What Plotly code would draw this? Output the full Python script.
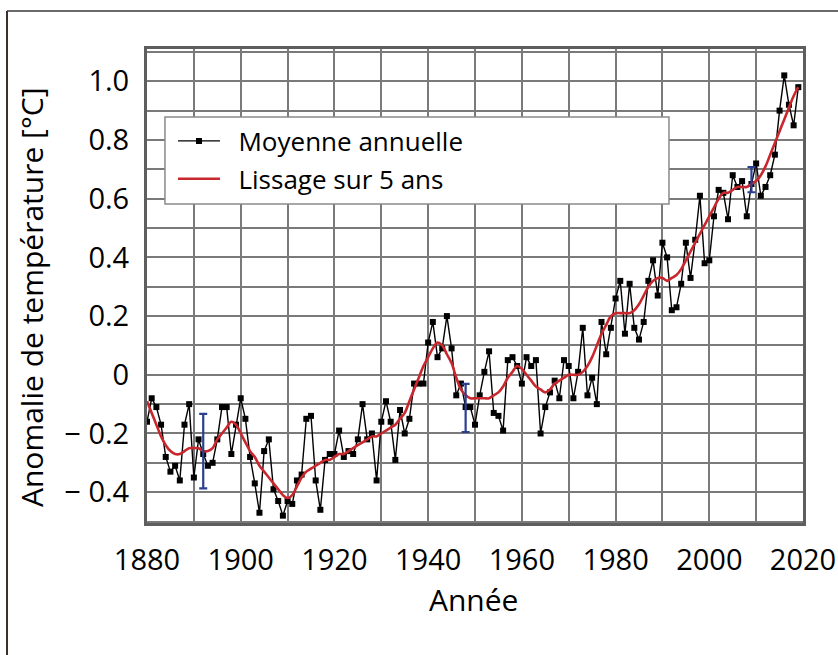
import plotly.graph_objects as go

# ---- data ----
years = list(range(1880, 2020))
annual = [
    -0.16, -0.08, -0.11, -0.17, -0.28, -0.33, -0.31, -0.36, -0.17, -0.10,
    -0.35, -0.22, -0.27, -0.31, -0.30, -0.22, -0.11, -0.11, -0.27, -0.17,
    -0.08, -0.15, -0.28, -0.37, -0.47, -0.26, -0.22, -0.39, -0.43, -0.48,
    -0.43, -0.44, -0.36, -0.34, -0.15, -0.14, -0.36, -0.46, -0.29, -0.27,
    -0.27, -0.19, -0.28, -0.26, -0.27, -0.22, -0.10, -0.22, -0.20, -0.36,
    -0.16, -0.09, -0.16, -0.29, -0.12, -0.20, -0.15, -0.03, -0.03, -0.03,
    0.11, 0.18, 0.06, 0.09, 0.20, 0.09, -0.07, -0.03, -0.11, -0.11,
    -0.17, -0.07, 0.01, 0.08, -0.13, -0.14, -0.19, 0.05, 0.06, 0.03,
    -0.03, 0.06, 0.03, 0.05, -0.20, -0.11, -0.06, -0.02, -0.08, 0.05,
    0.03, -0.08, 0.01, 0.16, -0.07, -0.01, -0.10, 0.18, 0.07, 0.16,
    0.26, 0.32, 0.14, 0.31, 0.16, 0.12, 0.18, 0.32, 0.39, 0.27,
    0.45, 0.40, 0.22, 0.23, 0.31, 0.45, 0.33, 0.46, 0.61, 0.38,
    0.39, 0.54, 0.63, 0.62, 0.53, 0.68, 0.64, 0.66, 0.54, 0.65,
    0.72, 0.61, 0.64, 0.68, 0.75, 0.90, 1.02, 0.92, 0.85, 0.98,
]
smooth = [
    -0.09, -0.13, -0.17, -0.21, -0.24, -0.26, -0.27, -0.27, -0.26, -0.25,
    -0.25, -0.25, -0.26, -0.26, -0.25, -0.22, -0.20, -0.18, -0.16, -0.17,
    -0.20, -0.23, -0.26, -0.28, -0.31, -0.33, -0.35, -0.37, -0.39, -0.41,
    -0.42, -0.41, -0.38, -0.35, -0.33, -0.32, -0.31, -0.30, -0.29, -0.29,
    -0.28, -0.27, -0.27, -0.26, -0.25, -0.24, -0.23, -0.22, -0.21, -0.21,
    -0.20, -0.19, -0.18, -0.17, -0.15, -0.13, -0.09, -0.05, -0.01, 0.03,
    0.06, 0.09, 0.11, 0.10, 0.07, 0.04, -0.01, -0.05, -0.07, -0.08,
    -0.08, -0.08, -0.08, -0.08, -0.07, -0.06, -0.04, -0.01, 0.01, 0.03,
    0.02, 0.00, -0.02, -0.04, -0.05, -0.06, -0.05, -0.03, -0.02, -0.01,
    0.00, 0.00, 0.00, 0.01, 0.03, 0.06, 0.10, 0.14, 0.17, 0.20,
    0.21, 0.21, 0.21, 0.21, 0.22, 0.24, 0.27, 0.30, 0.32, 0.33,
    0.33, 0.32, 0.33, 0.34, 0.36, 0.39, 0.42, 0.45, 0.48, 0.51,
    0.54, 0.57, 0.60, 0.62, 0.62, 0.63, 0.64, 0.64, 0.64, 0.65,
    0.66, 0.68, 0.71, 0.75, 0.79, 0.83, 0.87, 0.91, 0.95, 0.98,
]
err_years = [1892, 1948, 2009]
err_center = [-0.26, -0.113, 0.665]
err_half = [0.127, 0.082, 0.043]

x_tickvals = list(range(1880, 2021, 10))
x_ticktext = ["1880", "", "1900", "", "1920", "", "1940", "", "1960", "",
              "1980", "", "2000", "", "2020"]
y_tickvals = [-0.5, -0.4, -0.3, -0.2, -0.1, 0.0, 0.1, 0.2, 0.3, 0.4,
              0.5, 0.6, 0.7, 0.8, 0.9, 1.0, 1.1]
y_ticktext = ["", "\u2212 0.4", "", "\u2212 0.2", "", "0", "", "0.2", "",
              "0.4", "", "0.6", "", "0.8", "", "1.0", ""]
x_title = "Année"
y_title = "Anomalie de température [°C]"
name_annual = "Moyenne annuelle"
name_smooth = "Lissage sur 5 ans"

FONT = "Open Sans"
W = 500
GRID = "#7a7a7a"
PAD = "\u00a0\u00a0"

fig = go.Figure()
fig.add_trace(go.Scatter(
    x=years, y=annual, mode="lines+markers", name=PAD + name_annual,
    line=dict(color="black", width=1.4),
    marker=dict(symbol="square", size=6, color="black"),
    legendgroup="a",
))
fig.add_trace(go.Scatter(
    x=years, y=smooth, mode="lines", name=PAD + name_smooth,
    line=dict(color="#c8282d", width=2.6, shape="spline"),
    legendgroup="b",
))
fig.add_trace(go.Scatter(
    x=err_years, y=err_center, mode="markers", showlegend=False,
    marker=dict(size=1, color="rgba(0,0,0,0)"),
    error_y=dict(type="data", array=err_half, visible=True,
                 color="#2b3f91", thickness=2.2, width=4),
))

fig.add_shape(type="rect", xref="paper", yref="paper",
              x0=0.0274, x1=0.7957, y0=0.673, y1=0.8565,
              line=dict(color="#8a8a8a", width=1.5), fillcolor="white",
              layer="above")
# outer frame
fig.add_shape(type="line", xref="paper", yref="paper",
              x0=-0.2134, x1=1.1, y0=1.0802, y1=1.0802,
              line=dict(color="#6a6a6a", width=2))
fig.add_shape(type="line", xref="paper", yref="paper",
              x0=-0.2134, x1=-0.2134, y0=1.0802, y1=-0.3,
              line=dict(color="#3a2f2a", width=2))

fig.add_annotation(text=x_title, xref="paper", yref="paper",
                   x=0.497, y=-0.1624, xanchor="center", yanchor="middle",
                   showarrow=False,
                   font=dict(family=FONT, size=30, color="black", weight=W))
fig.add_annotation(text=y_title, xref="paper", yref="paper",
                   x=-0.1753, y=0.4747, xanchor="center", yanchor="middle",
                   textangle=-90, showarrow=False,
                   font=dict(family=FONT, size=30, color="black", weight=W))

fig.update_layout(
    width=838, height=655,
    margin=dict(l=147, r=35, t=49, b=132, autoexpand=False),
    paper_bgcolor="white", plot_bgcolor="white",
    font=dict(family=FONT, color="black"),
    showlegend=True,
    legend=dict(x=0.0396, y=0.8555, xanchor="left", yanchor="top",
                bgcolor="rgba(0,0,0,0)", borderwidth=0,
                font=dict(family=FONT, size=26, color="black", weight=W),
                tracegroupgap=1, itemwidth=42),
    xaxis=dict(range=[1880, 2020], tickmode="array",
               tickvals=x_tickvals, ticktext=x_ticktext,
               showgrid=True, gridcolor=GRID, gridwidth=1.5,
               showline=True, linecolor="#5e5e5e", linewidth=3, mirror=True,
               ticks="", ticklabelstandoff=9, zeroline=False,
               automargin=False,
               tickfont=dict(family=FONT, size=29, color="black", weight=W)),
    yaxis=dict(range=[-0.505, 1.11], tickmode="array",
               tickvals=y_tickvals, ticktext=y_ticktext,
               showgrid=True, gridcolor=GRID, gridwidth=1.5,
               showline=True, linecolor="#5e5e5e", linewidth=3, mirror=True,
               ticks="", ticklabelstandoff=9, zeroline=False,
               automargin=False,
               tickfont=dict(family=FONT, size=29, color="black", weight=W)),
)

fig.write_html("out.html",
               config=dict(displayModeBar=False),
               post_script="document.body.style.margin='0';")
